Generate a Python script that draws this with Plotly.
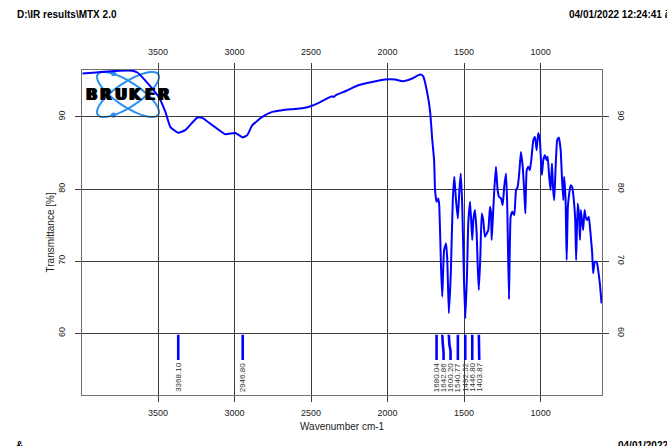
import numpy as np
import plotly.graph_objects as go

# ---- spectrum (wavenumber in cm-1, transmittance in %) ----
wavenumber = [3994, 3929, 3779, 3668, 3635, 3557, 3491, 3452, 3420, 3368, 3322, 3243, 3211,
              3145, 3061, 2995, 2947, 2917, 2884, 2819, 2754, 2689, 2623, 2558, 2493, 2440, 2388,
              2362, 2352, 2340, 2277, 2192, 2101, 2016, 1951, 1899, 1840, 1788, 1768, 1742,
              1722, 1708, 1696, 1690, 1680, 1668, 1662, 1651, 1643, 1631, 1618, 1610, 1600,
              1587, 1574, 1564, 1553, 1541, 1531, 1522, 1512, 1501, 1492, 1481, 1473, 1461,
              1447, 1440, 1429, 1418, 1411, 1404, 1394, 1385, 1375, 1364, 1352, 1342, 1331,
              1324, 1320, 1313, 1303, 1292, 1281, 1272, 1259, 1248, 1238, 1226, 1218, 1207,
              1196, 1185, 1172, 1161, 1150, 1140, 1129, 1117, 1107, 1100, 1091, 1081, 1070,
              1059, 1048, 1037, 1026, 1016, 1005, 998, 992, 983, 972, 961, 954, 944, 935,
              926, 918, 911, 902, 892, 881, 869, 861, 852, 846, 837, 830, 822, 813, 804,
              794, 783, 774, 768, 758, 750, 743, 737, 728, 722, 713, 706, 696, 685, 674,
              663, 657, 646, 634, 624, 613, 602]
transmittance = [96.0, 96.12, 96.37, 96.4, 96.15, 94.39, 92.59, 90.69, 88.62, 87.8, 88.16, 89.92, 89.86,
                 88.85, 87.6, 87.78, 87.15, 87.47, 88.85, 90.0, 90.69, 90.93, 91.07, 91.2, 91.55, 92.05, 92.63,
                 92.85, 92.75, 93.0, 93.56, 94.39, 94.85, 95.18, 95.18, 94.94, 95.32, 95.87, 95.64, 93.46,
                 90.69, 86.77, 84.0, 79.85, 78.23, 78.7, 77.54, 69.2, 65.07, 71.54, 72.47, 70.15, 62.77,
                 68.31, 78.46, 81.69, 78.46, 75.93, 79.85, 82.16, 77.54, 67.38, 62.08, 68.31, 75.24, 78.23,
                 72.92, 75.69, 77.08, 73.85, 69.2, 66.0, 70.61, 76.62, 75.69, 73.38, 73.85, 74.31, 77.54,
                 76.62, 72.92, 75.69, 79.85, 83.08, 79.85, 78.92, 78.7, 77.77, 80.3, 82.16, 77.54, 64.71,
                 76.15, 76.84, 76.39, 79.85, 80.3, 82.16, 85.15, 83.08, 79.61, 76.62, 82.62, 83.08, 82.62,
                 84.46, 86.77, 87.23, 85.39, 87.78, 86.77, 84.0, 81.93, 84.0, 84.7, 84.0, 84.46, 81.69, 79.85,
                 83.55, 79.85, 78.46, 83.08, 86.77, 87.15, 85.39, 81.69, 78.46, 81.69, 78.46, 70.15, 77.54, 79.39, 80.54,
                 80.3, 78.46, 75.69, 70.15, 78.0, 76.62, 72.92, 77.08, 75.24, 74.31, 77.08, 76.15, 75.69, 76.15, 73.85,
                 71.08, 68.31, 69.92, 69.92, 68.77, 66.93, 64.15]

# picked peaks
peak_labels = ["3368.10", "2946.80", "1680.04", "1642.86", "1600.20",
               "1540.77", "1492.52", "1446.80", "1403.87"]
peak_positions = [float(p) for p in peak_labels]

# axis ticks
x_ticks = [3500, 3000, 2500, 2000, 1500, 1000]
y_ticks = [60, 70, 80, 90]
x_range = [3997, 599]
y_range = [51.45, 96.5]

header_left = "D:\\IR results\\MTX 2.0"
header_right = "04/01/2022 12:24:41 ã"
footer_left = "&"
footer_right = "04/01/2022"

W, H = 667, 446
ML, MR, MT, MB = 82, 65, 70, 51
PW, PH = W - ML - MR, H - MT - MB

FONT = "Liberation Sans, Arial, sans-serif"
BLUE = "#0000ff"
GRID = "#3c3c3c"
FRAME = "#707070"

fig = go.Figure()

fig.add_trace(go.Scatter(
    x=wavenumber, y=transmittance, mode="lines",
    line=dict(color=BLUE, width=2, shape="spline", smoothing=0.4),
    hoverinfo="skip", showlegend=False))

# peak markers: vertical tick under each peak, bent sideways where labels would crowd
bar_top, bar_bottom = 59.8, 56.3
min_gap = 45.7
label_pos = []
for i, p in enumerate(peak_positions):
    if i == 0:
        label_pos.append(p)
    else:
        label_pos.append(min(p, label_pos[-1] - min_gap))

for p, lp, txt in zip(peak_positions, label_pos, peak_labels):
    ys = np.linspace(bar_top, bar_bottom, 30)
    frac = np.clip((bar_top - 0.9 - ys) / 1.3, 0, 1)
    blend = 0.5 - 0.5 * np.cos(np.pi * frac)
    xs = p + (lp - p) * blend
    fig.add_trace(go.Scatter(x=xs, y=ys, mode="lines",
                             line=dict(color=BLUE, width=2.6),
                             hoverinfo="skip", showlegend=False))
    fig.add_annotation(x=lp, y=bar_bottom - 0.15, xref="x", yref="y", text=txt,
                       textangle=-90, showarrow=False, xanchor="center", yanchor="top",
                       font=dict(family=FONT, size=8, color="#333333"))

# trace that brings up the mirrored top/right axes
fig.add_trace(go.Scatter(x=[None], y=[None], xaxis="x2", yaxis="y2",
                         hoverinfo="skip", showlegend=False))

axis_common = dict(showgrid=True, gridcolor=GRID, gridwidth=1, zeroline=False,
                   showline=True, linecolor=FRAME, linewidth=1.3, mirror=True,
                   ticks="outside", ticklen=6, tickcolor=GRID, tickwidth=1,
                   tickfont=dict(family=FONT, size=9, color="#222222"))

fig.update_layout(
    width=W, height=H,
    margin=dict(l=ML, r=MR, t=MT, b=MB, pad=0),
    paper_bgcolor="white", plot_bgcolor="white",
    xaxis=dict(range=x_range, tickvals=x_ticks, ticklabelstandoff=3, **axis_common),
    yaxis=dict(range=y_range, tickvals=y_ticks, tickangle=-90, ticklabelstandoff=6, **axis_common),
    xaxis2=dict(range=x_range, tickvals=x_ticks, overlaying="x", side="top", anchor="y2",
                showgrid=False, zeroline=False, ticks="outside", ticklen=6, tickcolor=GRID,
                ticklabelstandoff=4,
                tickfont=dict(family=FONT, size=9, color="#222222")),
    yaxis2=dict(range=y_range, tickvals=y_ticks, overlaying="y", side="right", anchor="x2",
                showgrid=False, zeroline=False, ticks="outside", ticklen=6, tickcolor=GRID,
                tickangle=90, ticklabelstandoff=5,
                tickfont=dict(family=FONT, size=9, color="#222222")),
    showlegend=False,
)

# axis titles
fig.add_annotation(x=0.5, y=0, xref="paper", yref="paper", yshift=-31, text="Wavenumber cm-1",
                   showarrow=False, xanchor="center", yanchor="middle",
                   font=dict(family=FONT, size=10, color="#222222"))
fig.add_annotation(x=0, y=0.5, xref="paper", yref="paper", xshift=-32, text="Transmittance [%]",
                   textangle=-90, showarrow=False, xanchor="center", yanchor="middle",
                   font=dict(family=FONT, size=10, color="#222222"))

# page header / footer
fig.add_annotation(x=0, y=1, xref="paper", yref="paper", xshift=15 - ML, yshift=MT - 14,
                   text="<b>" + header_left + "</b>", showarrow=False, xanchor="left", yanchor="middle",
                   font=dict(family=FONT, size=10, color="black"))
fig.add_annotation(x=1, y=1, xref="paper", yref="paper", xshift=567 - (W - MR), yshift=MT - 14,
                   text="<b>" + header_right + "</b>", showarrow=False, xanchor="left", yanchor="middle",
                   font=dict(family=FONT, size=10, color="black"))
fig.add_annotation(x=0, y=0, xref="paper", yref="paper", xshift=14 - ML, yshift=-(438 - (H - MB)),
                   text="<b>" + footer_left + "</b>", showarrow=False, xanchor="left", yanchor="top",
                   font=dict(family=FONT, size=10, color="black"))
fig.add_annotation(x=1, y=0, xref="paper", yref="paper", xshift=616 - (W - MR), yshift=-(438 - (H - MB)),
                   text="<b>" + footer_right + "</b>", showarrow=False, xanchor="left", yanchor="top",
                   font=dict(family=FONT, size=10, color="black"))


# ---- Bruker logo (atom + lettering), placed in pixel space ----
def to_paper(X, Y):
    return (np.asarray(X) - ML) / PW, (H - MB - np.asarray(Y)) / PH


LOGO_BLUE = "#2a8ff0"
cx, cy, a, b = 128.0, 94.5, 36.4, 12.0
t = np.linspace(0, 2 * np.pi, 80)
for ang in (np.deg2rad(33.7), -np.deg2rad(33.7)):
    ex = cx + a * np.cos(t) * np.cos(ang) - b * np.sin(t) * np.sin(ang)
    ey = cy + a * np.cos(t) * np.sin(ang) + b * np.sin(t) * np.cos(ang)
    px, py = to_paper(ex, ey)
    path = "M " + " L ".join(f"{u:.5f},{v:.5f}" for u, v in zip(px, py)) + " Z"
    fig.add_shape(type="path", path=path, xref="paper", yref="paper",
                  line=dict(color=LOGO_BLUE, width=2), layer="below")
for dx, dy in ((113.5, 73.5), (113.5, 115.0)):
    x0, y0 = to_paper(dx - 2.6, dy + 2.6)
    x1, y1 = to_paper(dx + 2.6, dy - 2.6)
    fig.add_shape(type="circle", x0=x0, y0=y0, x1=x1, y1=y1, xref="paper", yref="paper",
                  fillcolor=LOGO_BLUE, line=dict(color=LOGO_BLUE, width=0), layer="below")

logo_word = "BRUKER"
pitch = 14.6
for i, ch in enumerate(logo_word):
    lx, ly = to_paper(84 + pitch / 2 + i * pitch, 95)
    fig.add_annotation(x=float(lx), y=float(ly), xref="paper", yref="paper", text=ch,
                       showarrow=False, xanchor="center", yanchor="middle",
                       font=dict(family="DejaVu Sans", size=15, color="black", weight="bold",
                                 shadow="1px 0px 0px #000, -1px 0px 0px #000"))

fig.write_html("out.html")
